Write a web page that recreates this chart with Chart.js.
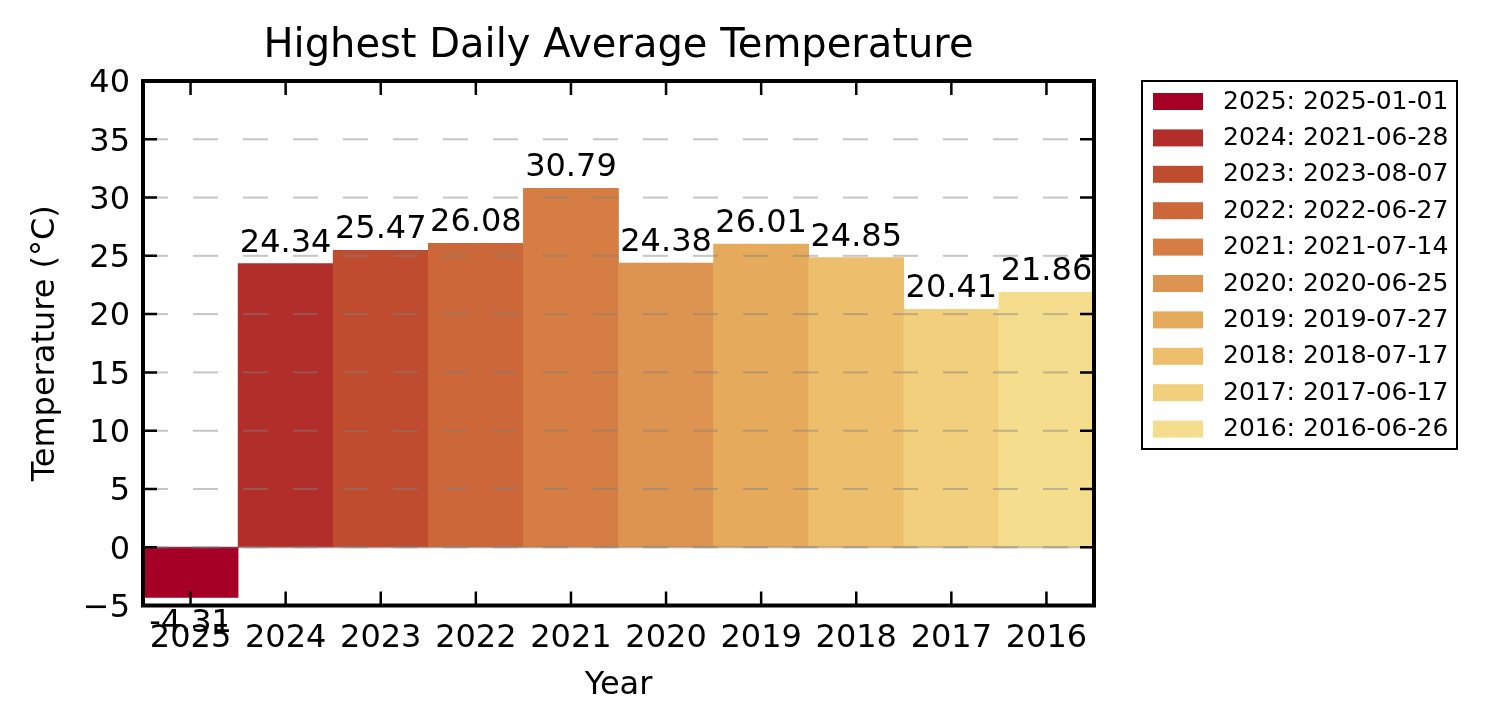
<!DOCTYPE html>
<html>
<head>
<meta charset="utf-8">
<script src="https://cdn.jsdelivr.net/npm/chart.js@4.4.1/dist/chart.umd.min.js"></script>
<style>
  html, body { margin: 0; padding: 0; background: #fff; }
  canvas { display: block; }
</style>
</head>
<body>
<canvas id="myChart" width="1487" height="724"></canvas>
<script>
// values
var years = ['2025', '2024', '2023', '2022', '2021', '2020', '2019', '2018', '2017', '2016'];
var temps = [-4.31, 24.34, 25.47, 26.08, 30.79, 24.38, 26.01, 24.85, 20.41, 21.86];
var peakDates = ['2025-01-01', '2021-06-28', '2023-08-07', '2022-06-27', '2021-07-14',
                 '2020-06-25', '2019-07-27', '2018-07-17', '2017-06-17', '2016-06-26'];
var barColors = ['#a50026', '#b22e2b', '#c04c30', '#cb6739', '#d57d42',
                 '#dd9450', '#e5aa5c', '#edbe6c', '#f2cf7c', '#f4de8e'];
var yMin = -5, yMax = 40, yStep = 5;

Chart.defaults.font.family = '"DejaVu Sans", sans-serif';
Chart.defaults.color = '#000';

// dashed grid + zero line, drawn over the bars like the original
var gridOverBars = {
  id: 'gridOverBars',
  afterDatasetsDraw: function(chart) {
    var ctx = chart.ctx, a = chart.chartArea, y = chart.scales.y;
    ctx.save();
    var y0 = y.getPixelForValue(0);
    ctx.strokeStyle = 'rgba(128,128,128,0.35)';
    ctx.lineWidth = 2.5;
    ctx.beginPath(); ctx.moveTo(a.left, y0); ctx.lineTo(a.right, y0); ctx.stroke();
    ctx.strokeStyle = 'rgba(128,128,128,0.45)';
    ctx.lineWidth = 2;
    ctx.setLineDash([25, 25]);
    y.ticks.forEach(function(t) {
      if (t.value <= yMin || t.value >= yMax) return;
      var py = y.getPixelForValue(t.value);
      ctx.beginPath(); ctx.moveTo(a.left, py); ctx.lineTo(a.right, py); ctx.stroke();
    });
    ctx.restore();
  }
};

// value labels above (or below) each bar
var valueLabels = {
  id: 'valueLabels',
  afterDatasetsDraw: function(chart) {
    var ctx = chart.ctx;
    var meta = chart.getDatasetMeta(0);
    ctx.save();
    ctx.font = '32px "DejaVu Sans"';
    ctx.fillStyle = '#000';
    ctx.textAlign = 'center';
    ctx.textBaseline = 'alphabetic';
    meta.data.forEach(function(bar, i) {
      var v = temps[i];
      if (v >= 0) ctx.fillText(v.toFixed(2), bar.x, bar.y - 12);
      else ctx.fillText(v.toFixed(2), bar.x, bar.y + 35);
    });
    ctx.restore();
  }
};

// frame and inward ticks on all four sides
var frameTicks = {
  id: 'frameTicks',
  afterDraw: function(chart) {
    var ctx = chart.ctx, a = chart.chartArea;
    var xs = chart.scales.x, ys = chart.scales.y;
    var len = 14;
    ctx.save();
    ctx.strokeStyle = '#000';
    ctx.lineWidth = 2.5;
    ys.ticks.forEach(function(t) {
      var py = ys.getPixelForValue(t.value);
      ctx.beginPath();
      ctx.moveTo(a.left, py); ctx.lineTo(a.left + len, py);
      ctx.moveTo(a.right, py); ctx.lineTo(a.right - len, py);
      ctx.stroke();
    });
    xs.ticks.forEach(function(t, i) {
      var px = xs.getPixelForTick(i);
      ctx.beginPath();
      ctx.moveTo(px, a.bottom); ctx.lineTo(px, a.bottom - len);
      ctx.moveTo(px, a.top); ctx.lineTo(px, a.top + len);
      ctx.stroke();
    });
    ctx.lineWidth = 4;
    ctx.strokeRect(a.left, a.top, a.right - a.left, a.bottom - a.top);
    ctx.restore();
  }
};

// boxed legend to the right of the plot
var boxLegend = {
  id: 'boxLegend',
  afterDraw: function(chart) {
    var ctx = chart.ctx, a = chart.chartArea;
    var left = a.right + 48, top = a.top;
    var w = 315, h = 368, rowH = 36.4;
    ctx.save();
    ctx.fillStyle = '#fff';
    ctx.fillRect(left, top, w, h);
    ctx.strokeStyle = '#000';
    ctx.lineWidth = 2;
    ctx.strokeRect(left, top, w, h);
    ctx.font = '25px "DejaVu Sans"';
    ctx.textAlign = 'left';
    ctx.textBaseline = 'middle';
    years.forEach(function(yr, i) {
      var sy = top + 12 + i * rowH;
      ctx.fillStyle = barColors[i];
      ctx.fillRect(left + 11, sy, 50, 17);
      ctx.fillStyle = '#000';
      ctx.fillText(yr + ': ' + peakDates[i], left + 81, sy + 9);
    });
    ctx.restore();
  }
};

var data = {
  labels: years,
  datasets: [{
    label: 'Temperature',
    data: temps,
    backgroundColor: barColors,
    borderWidth: 0,
    barPercentage: 1,
    categoryPercentage: 1
  }]
};

var config = {
  type: 'bar',
  data: data,
  options: {
    responsive: false,
    animation: false,
    devicePixelRatio: 1,
    layout: { padding: { left: 0, right: 393, top: 0, bottom: 0 } },
    plugins: {
      legend: { display: false },
      tooltip: { enabled: false },
      title: {
        display: true,
        text: 'Highest Daily Average Temperature',
        fullSize: false,
        font: { size: 40, weight: 'normal' },
        color: '#000',
        padding: { top: 23, bottom: 10 }
      }
    },
    scales: {
      x: {
        grid: { display: false, drawTicks: false },
        border: { display: false },
        ticks: { font: { size: 32 }, color: '#000', padding: 14, maxRotation: 0, autoSkip: false },
        title: { display: true, text: 'Year', font: { size: 32 }, color: '#000', padding: { top: 0, bottom: 19 } },
        afterFit: function(scale) { scale.height = 118.5; }
      },
      y: {
        min: yMin,
        max: yMax,
        grid: { display: false, drawTicks: false },
        border: { display: false },
        ticks: {
          stepSize: yStep,
          font: { size: 32 },
          color: '#000',
          padding: 13,
          labelOffset: 3,
          callback: function(v) { return v < 0 ? '\u2212' + Math.abs(v) : '' + v; }
        },
        title: { display: true, text: 'Temperature (°C)', font: { size: 32 }, color: '#000', padding: { top: 26, bottom: 0 } },
        afterFit: function(scale) { scale.width = 143; }
      }
    }
  },
  plugins: [gridOverBars, valueLabels, frameTicks, boxLegend]
};

var myChart = new Chart(document.getElementById('myChart').getContext('2d'), config);
</script>
</body>
</html>
